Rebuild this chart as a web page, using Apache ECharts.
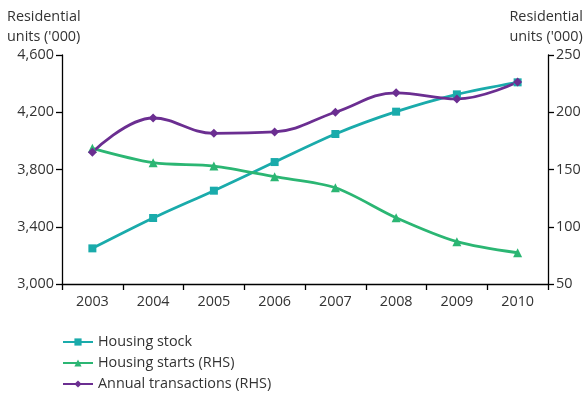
<!DOCTYPE html>
<html>
<head>
<meta charset="utf-8">
<script src="https://cdn.jsdelivr.net/npm/echarts@6/dist/echarts.min.js"></script>
<style>
html,body{margin:0;padding:0;background:#fff;}
#c{width:586px;height:393px;}
</style>
</head>
<body>
<div id="c"></div>
<script>
var years = ['2003','2004','2005','2006','2007','2008','2009','2010'];
var housingStock = [3249, 3461, 3652, 3852, 4048, 4204, 4325, 4409];
var housingStarts = [168.5, 156, 153, 143.7, 134.1, 107.9, 87, 77.3];
var annualTransactions = [165, 195, 181.6, 182.8, 200, 217, 211.6, 226.4];

var FONT = '"Open Sans", "Noto Sans", sans-serif';
var FS = 14.4;
var TXT = '#333333';
var cStock = '#1aabab', cStarts = '#2bb673', cTrans = '#6b2e91';

var chart = echarts.init(document.getElementById('c'), null, {renderer:'canvas'});
var axisCommon = {
  axisLine:{show:true, lineStyle:{color:'#000', width:1.3}},
  axisTick:{show:true, length:6, lineStyle:{color:'#000', width:1.3}},
  splitLine:{show:false},
  axisLabel:{color:TXT, fontFamily:FONT, fontSize:FS}
};
chart.setOption({
  animation:false,
  grid:{left:62, right:38, top:55, bottom:109, containLabel:false},
  textStyle:{fontFamily:FONT},
  graphic:[
    {type:'text', left:7, top:7, style:{text:"Residential\nunits ('000)", fill:TXT, font:FS+'px '+FONT, lineHeight:20}},
    {type:'text', right:3, top:7, style:{text:"Residential\nunits ('000)", fill:TXT, font:FS+'px '+FONT, lineHeight:20, align:'left'}}
  ],
  legend:{
    orient:'vertical', left:62, top:334, padding:0, itemGap:5, itemWidth:30, itemHeight:9,
    height:60,
    textStyle:{color:TXT, fontFamily:FONT, fontSize:FS, lineHeight:16},
    data:['Housing stock','Housing starts (RHS)','Annual transactions (RHS)']
  },
  xAxis:Object.assign({}, axisCommon, {
    type:'category', data:years, boundaryGap:true,
    axisTick:{show:true, length:6, alignWithLabel:false, lineStyle:{color:'#000', width:1.3}},
    axisLabel:{color:TXT, fontFamily:FONT, fontSize:FS, margin:11}
  }),
  yAxis:[
    Object.assign({}, axisCommon, {
      type:'value', min:3000, max:4600, interval:400, position:'left',
      axisLabel:{color:TXT, fontFamily:FONT, fontSize:FS, margin:8,
        formatter:function(v){return v.toLocaleString('en-US');}}
    }),
    Object.assign({}, axisCommon, {
      type:'value', min:50, max:250, interval:50, position:'right',
      axisLabel:{color:TXT, fontFamily:FONT, fontSize:FS, margin:8}
    })
  ],
  series:[
    {name:'Housing stock', type:'line', yAxisIndex:0, data:housingStock, smooth:0.3,
     symbol:'rect', symbolSize:8, lineStyle:{color:cStock, width:2.8}, itemStyle:{color:cStock}},
    {name:'Housing starts (RHS)', type:'line', yAxisIndex:1, data:housingStarts, smooth:0.3,
     symbol:'triangle', symbolSize:9, lineStyle:{color:cStarts, width:2.8}, itemStyle:{color:cStarts}},
    {name:'Annual transactions (RHS)', type:'line', yAxisIndex:1, data:annualTransactions, smooth:0.4,
     symbol:'diamond', symbolSize:9, lineStyle:{color:cTrans, width:2.8}, itemStyle:{color:cTrans}}
  ]
});
</script>
</body>
</html>
